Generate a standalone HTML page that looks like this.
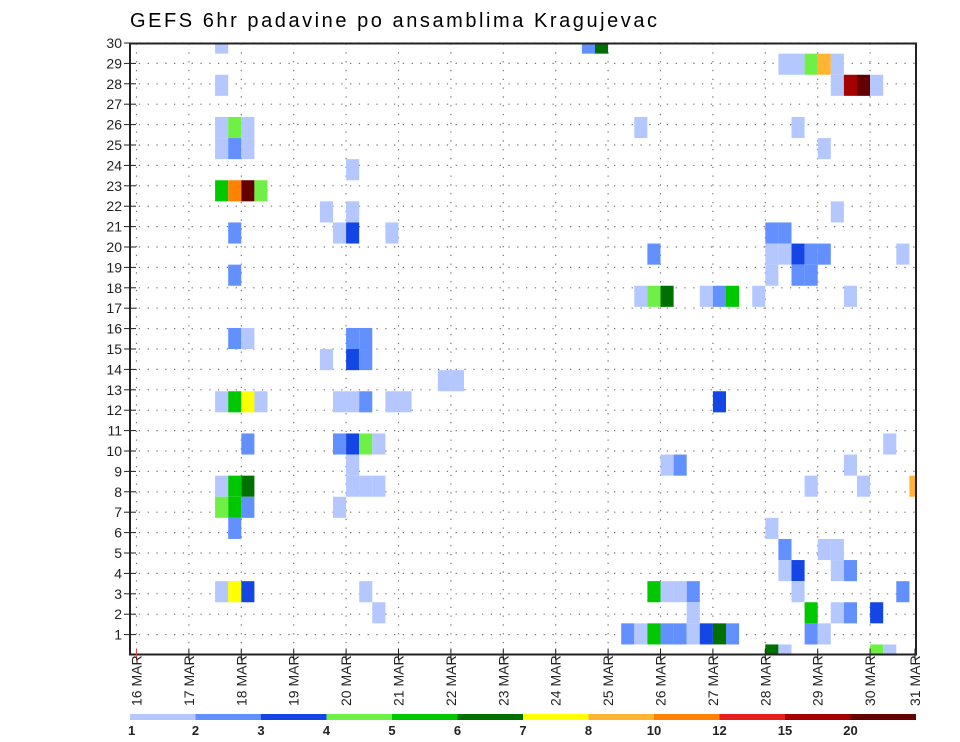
<!DOCTYPE html>
<html><head><meta charset="utf-8"><style>
body{margin:0;background:#fff;}
svg{display:block;font-family:"Liberation Sans",sans-serif;}
</style></head><body>
<svg id="chart" width="960" height="742" viewBox="0 0 960 742">
<text x="130" y="27" font-size="20" fill="#000" textLength="527" lengthAdjust="spacing">GEFS 6hr padavine po ansamblima Kragujevac</text>
<g id="grid"></g><g id="cells"></g><g id="axes"></g><g id="legend"></g>
</svg>
<script>
const days = ["16","17","18","19","20","21","22","23","24","25","26","27","28","29","30","31"];
const memberLabels = [1,2,3,4,5,6,7,8,9,10,11,12,13,14,15,16,17,18,19,20,21,22,23,24,25,26,27,28,29,30];
const legendLabels = ["1","2","3","4","5","6","7","8","10","12","15","20"];
const classColors = ["#b4c8ff","#6290ff","#1446e6","#6ef046","#00c800","#007000","#ffff00","#ffb432","#ff8200","#e61e1e","#a50000","#640000"];
// per row: member index, 6hr step indices (from 16 MAR 00z), precipitation classes 1..12
const rowMembers = [29,28,27,25,24,23,22,21,20,19,18,17,15,14,13,12,10,9,8,7,6,5,4,3,2,1,0];
const rowSteps = [
 [6,34,35],[49,50,51,52,53],[6,53,54,55,56],[6,7,8,38,50],[6,7,8,52],[16],[6,7,8,9],[14,16,53],
 [7,15,16,19,48,49],[39,48,49,50,51,52,58],[7,48,50,51],[38,39,40,43,44,45,47,54],
 [7,8,16,17],[14,16,17],[23,24],[6,7,8,9,15,16,17,19,20,44],[8,15,16,17,18,57],[16,40,41,54],
 [6,7,8,16,17,18,51,55,59],[6,7,8,15],[7,48],[49,52,53],[49,50,53,54],
 [6,7,8,17,39,40,41,42,50,58],[18,42,51,53,54,56],[37,38,39,40,41,42,43,44,45,51,52],[48,49,56,57]
];
const rowClasses = [
 [1,2,6],[1,1,4,8,1],[1,1,11,12,1],[1,4,1,1,1],[1,2,1,1],[1],[5,9,12,4],[1,1,1],
 [2,1,3,1,2,2],[2,1,1,3,2,2,1],[2,1,2,2],[1,4,6,1,2,5,1,1],
 [2,1,2,2],[1,3,2],[1,1],[1,5,7,1,1,1,2,1,1,3],[2,2,3,4,1,1],[1,1,2,1],
 [1,5,6,1,1,1,1,1,8],[4,5,2,1],[2,1],[2,1,1],[1,3,1,2],
 [1,7,3,1,5,1,1,2,1,2],[1,1,5,1,2,3],[2,1,5,2,2,1,3,6,2,2,1],[6,1,4,1]
];

const NS="http://www.w3.org/2000/svg";
const L=130,R=916,T=43.5,B=654.5;
const dayW=52.4, x0=136.5;
function xDay(d){return x0+d*dayW;}
function xStep(k){return x0+k*dayW/4;}
function yLabel(m){return 655-20.4*m;}
function yCell(m){return 655-21.1*m;}
function mk(tag,attrs,parent){const e=document.createElementNS(NS,tag);for(const k in attrs)e.setAttribute(k,attrs[k]);parent.appendChild(e);return e;}
const grid=document.getElementById('grid'),cells=document.getElementById('cells'),axes=document.getElementById('axes'),legend=document.getElementById('legend');
memberLabels.forEach(m=>{const y=yLabel(m);
 const g=mk('line',{x1:L,x2:R,y1:y,y2:y,stroke:'#777','stroke-width':1.2,'stroke-dasharray':'1.3 7.5'},grid);
 
 
});
days.forEach((d,i)=>{const x=xDay(i);if(x>R)return;
 const g=mk('line',{x1:x,x2:x,y1:T,y2:B,stroke:'#777','stroke-width':1.2,'stroke-dasharray':'1.3 7.5'},grid);
 
 
});
const cw=dayW/4, ch=21.1;
rowMembers.forEach((m,ri)=>{
 rowSteps[ri].forEach((k,j)=>{
  let x=xStep(k), w=cw;
  let y=yCell(m)-ch/2, h=ch;
  if(y<T){h-=T-y;y=T;} if(y+h>B){h=B-y;} if(x+w>R){w=R-x;}
  const r=mk('rect',{x:x,y:y,width:w,height:h,fill:classColors[rowClasses[ri][j]-1]},cells);
  
  
 });
});
const fr=mk('rect',{x:L,y:T,width:R-L,height:B-T,fill:'none',stroke:'#222','stroke-width':2},axes);


memberLabels.forEach(m=>{const y=yLabel(m);
 mk('line',{x1:L-6,x2:L+6,y1:y,y2:y,stroke:'#222','stroke-width':1},axes);
 const t=mk('text',{x:122,y:y+5,'text-anchor':'end','font-size':14,fill:'#222'},axes);
 t.textContent=m;
 
 
});
days.forEach((d,i)=>{let x=xDay(i);if(x>R)x=R-1;
 mk('line',{x1:x,x2:x,y1:B-6,y2:B+6,stroke:i==0?'#d44':'#222','stroke-width':1},axes);
 const t=mk('text',{x:0,y:0,'font-size':14,fill:'#222',transform:`translate(${x+5},706) rotate(-90)`},axes);
 t.textContent=d+"  MAR";
 
 
});
const segW=(R-L)/12;
classColors.forEach((c,i)=>{
 const r=mk('rect',{x:L+i*segW,y:714,width:segW,height:6,fill:c},legend);
 
 
});
legendLabels.forEach((s,i)=>{
 const t=mk('text',{x:L+i*segW-(i==0?2:0),y:735,'text-anchor':i==0?'start':'middle','font-size':13,'font-weight':'bold',fill:'#222'},legend);
 t.textContent=s;
 
 
});
</script>
</body></html>
